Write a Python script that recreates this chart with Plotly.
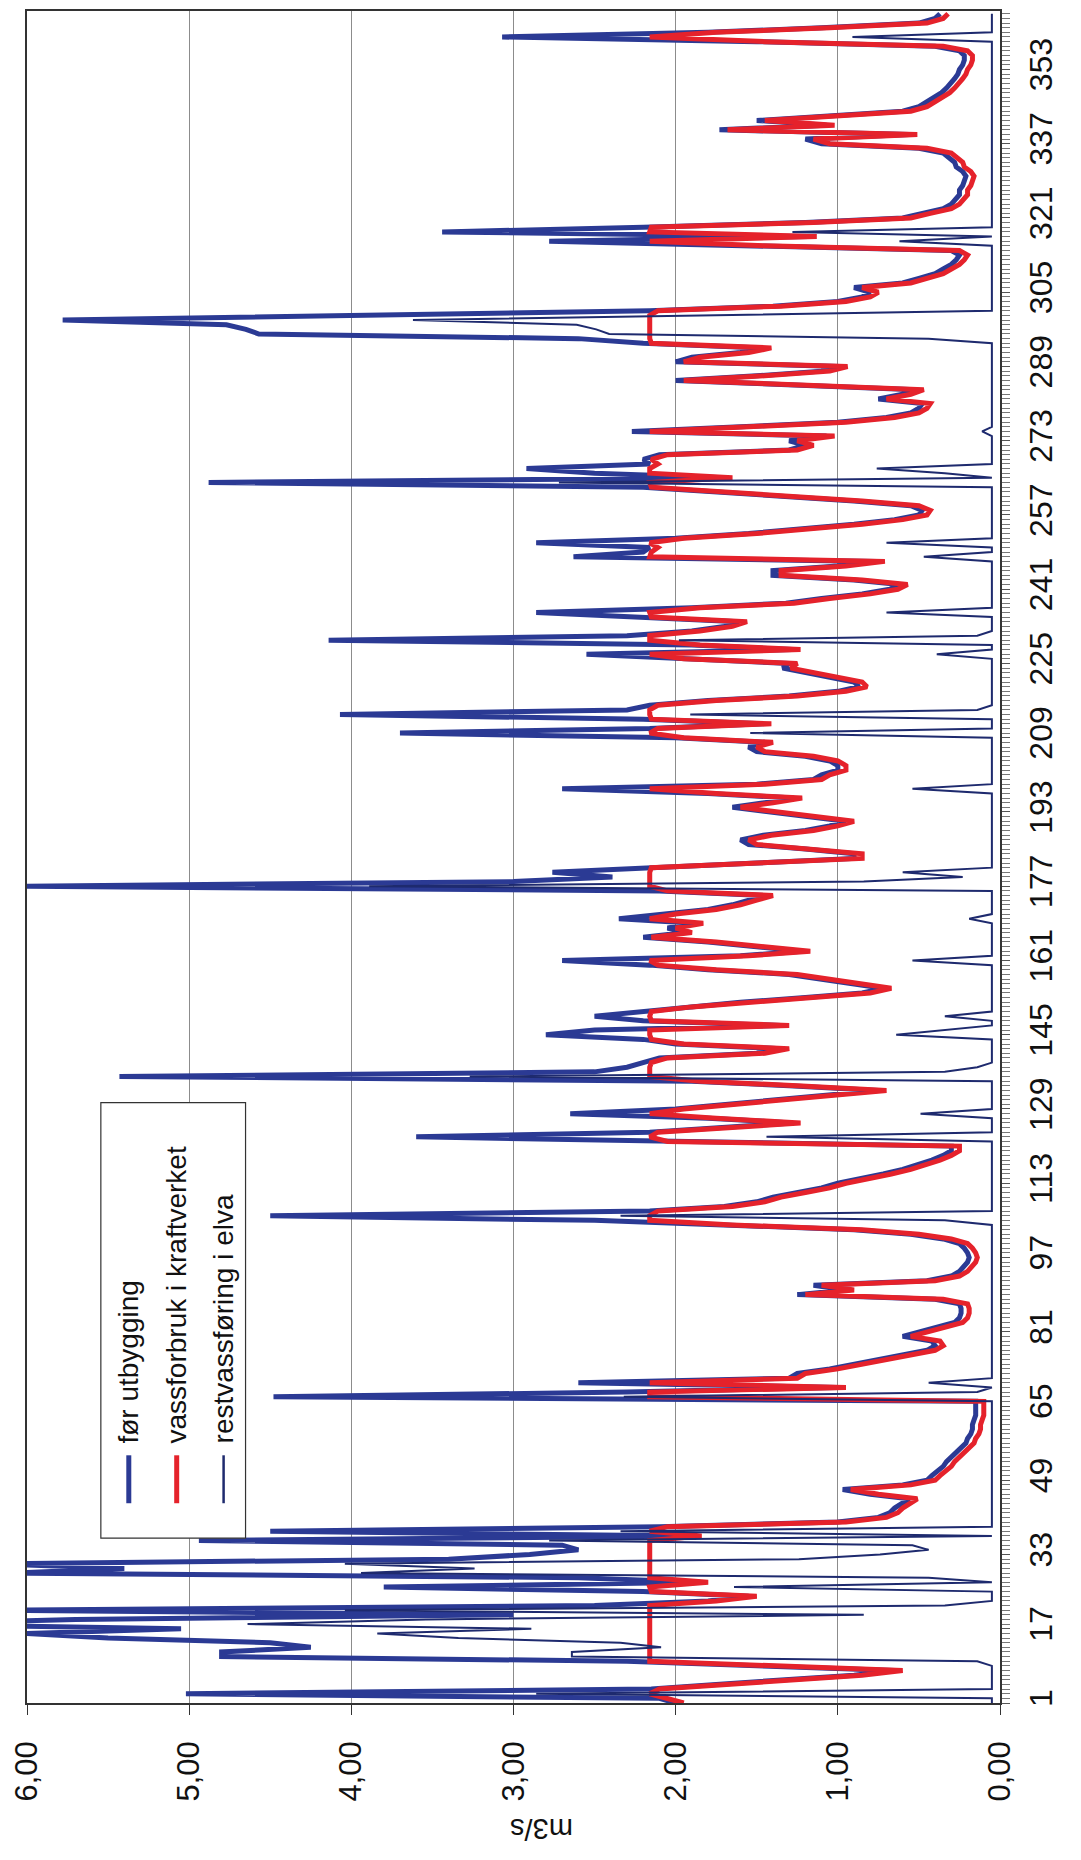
import plotly.graph_objects as go

# ---------------- data ----------------
days = list(range(1, 366))

for_utbygging = [
    2.00, 2.10, 5.02, 2.15, 1.75, 1.35, 0.90, 0.65, 1.40, 2.30,
    4.80, 4.80, 4.25, 4.50, 5.50, 6.00, 5.05, 6.80, 5.70, 3.00,
    6.20, 2.50, 1.80, 1.55, 2.20, 3.80, 1.85, 2.60, 6.10, 5.40,
    6.20, 3.40, 2.90, 2.60, 2.70, 4.94, 1.89, 4.50, 2.10, 1.00,
    0.75, 0.68, 0.65, 0.60, 0.56, 0.80, 0.97, 0.60, 0.45, 0.42,
    0.38, 0.35, 0.33, 0.30, 0.27, 0.24, 0.21, 0.20, 0.18, 0.17,
    0.17, 0.16, 0.15, 0.15, 0.15, 0.15, 4.48, 2.30, 1.00, 2.60,
    1.30, 1.25, 1.05, 0.90, 0.75, 0.60, 0.45, 0.40, 0.42, 0.60,
    0.50, 0.38, 0.28, 0.25, 0.24, 0.24, 0.25, 0.40, 1.25, 0.95,
    1.15, 0.45, 0.30, 0.25, 0.22, 0.20, 0.19, 0.20, 0.22, 0.25,
    0.35, 0.55, 0.90, 1.70, 2.50, 4.50, 2.16, 1.70, 1.50, 1.40,
    1.25, 1.10, 1.00, 0.85, 0.72, 0.60, 0.50, 0.42, 0.35, 0.30,
    0.30, 2.10, 3.60, 2.16, 1.70, 1.28, 1.80, 2.65, 2.00, 1.70,
    1.40, 1.10, 0.75, 1.30, 1.90, 5.43, 2.50, 2.30, 2.20, 2.10,
    1.50, 1.35, 2.00, 2.20, 2.80, 2.50, 1.35, 2.20, 2.50, 2.20,
    1.95, 1.60, 1.20, 0.85, 0.72, 0.90, 1.10, 1.30, 1.80, 2.16,
    2.70, 1.60, 1.22, 1.50, 1.80, 2.20, 1.95, 2.05, 1.88, 2.35,
    2.05, 1.80, 1.65, 1.55, 1.45, 2.10, 6.05, 3.00, 2.39, 2.76,
    2.20, 1.50, 0.90, 0.90, 1.20, 1.55, 1.60, 1.46, 1.20, 1.05,
    0.95, 1.20, 1.45, 1.65, 1.45, 1.27, 1.80, 2.70, 1.50, 1.15,
    1.10, 1.00, 1.00, 1.05, 1.20, 1.50, 1.55, 1.45, 2.00, 3.70,
    2.16, 1.46, 2.20, 4.07, 2.30, 2.16, 1.80, 1.30, 1.00, 0.87,
    0.90, 1.05, 1.20, 1.34, 1.30, 2.00, 2.55, 1.28, 1.90, 4.14,
    2.30, 1.90, 1.70, 1.61, 2.20, 2.86, 1.90, 1.32, 1.10, 0.85,
    0.68, 0.62, 0.90, 1.40, 1.40, 1.00, 0.76, 2.63, 2.20, 2.16,
    2.86, 2.00, 1.55, 1.20, 0.90, 0.65, 0.50, 0.48, 0.55, 0.90,
    1.30, 1.70, 2.20, 4.88, 1.70, 2.50, 2.92, 2.16, 2.20, 2.10,
    1.30, 1.20, 1.30, 1.07, 2.27, 1.60, 1.00, 0.70, 0.55, 0.50,
    0.48, 0.75, 0.60, 0.52, 1.20, 2.00, 1.50, 1.10, 0.99, 2.00,
    1.90, 1.60, 1.46, 2.20, 2.60, 4.57, 4.65, 4.77, 5.78, 4.00,
    2.16, 1.40, 1.00, 0.85, 0.80, 0.90, 0.60, 0.50, 0.40, 0.35,
    0.30, 0.27, 0.25, 0.30, 1.50, 2.78, 1.18, 3.44, 2.20, 1.20,
    0.60, 0.48, 0.35, 0.30, 0.27, 0.25, 0.25, 0.23, 0.22, 0.21,
    0.23, 0.27, 0.28, 0.32, 0.35, 0.50, 1.10, 1.20, 0.56, 1.73,
    1.07, 1.50, 1.00, 0.60, 0.50, 0.45, 0.40, 0.36, 0.33, 0.30,
    0.28, 0.26, 0.25, 0.23, 0.22, 0.22, 0.25, 0.40, 1.50, 3.07,
    1.80, 1.10, 0.50, 0.40, 0.37,
]

vassforbruk_kraftverket = [
    1.95, 2.05, 2.16, 2.10, 1.70, 1.30, 0.85, 0.60, 1.35, 2.16,
    2.16, 2.16, 2.16, 2.16, 2.16, 2.16, 2.16, 2.16, 2.16, 2.16,
    2.16, 2.16, 1.75, 1.50, 2.15, 2.16, 1.80, 2.16, 2.16, 2.16,
    2.16, 2.16, 2.16, 2.16, 2.16, 2.16, 1.84, 2.16, 2.05, 0.95,
    0.70, 0.63, 0.60, 0.55, 0.51, 0.75, 0.92, 0.55, 0.40, 0.37,
    0.33, 0.30, 0.28, 0.25, 0.22, 0.19, 0.16, 0.15, 0.13, 0.12,
    0.12, 0.11, 0.10, 0.10, 0.10, 0.10, 2.16, 2.16, 0.95, 2.16,
    1.25, 1.20, 1.00, 0.85, 0.70, 0.55, 0.40, 0.35, 0.37, 0.55,
    0.45, 0.33, 0.23, 0.20, 0.19, 0.19, 0.20, 0.35, 1.20, 0.90,
    1.10, 0.40, 0.25, 0.20, 0.17, 0.15, 0.14, 0.15, 0.17, 0.20,
    0.30, 0.50, 0.85, 1.65, 2.16, 2.16, 2.11, 1.65, 1.45, 1.35,
    1.20, 1.05, 0.95, 0.80, 0.67, 0.55, 0.45, 0.37, 0.30, 0.25,
    0.25, 2.05, 2.16, 2.11, 1.65, 1.23, 1.75, 2.16, 1.95, 1.65,
    1.35, 1.05, 0.70, 1.25, 1.85, 2.16, 2.16, 2.16, 2.15, 2.05,
    1.45, 1.30, 1.95, 2.15, 2.16, 2.16, 1.30, 2.15, 2.16, 2.15,
    1.90, 1.55, 1.15, 0.80, 0.67, 0.85, 1.05, 1.25, 1.75, 2.11,
    2.16, 1.55, 1.17, 1.45, 1.75, 2.15, 1.90, 2.00, 1.83, 2.16,
    2.00, 1.75, 1.60, 1.50, 1.40, 2.05, 2.16, 2.16, 2.16, 2.16,
    2.15, 1.45, 0.85, 0.85, 1.15, 1.50, 1.55, 1.41, 1.15, 1.00,
    0.90, 1.15, 1.40, 1.60, 1.40, 1.22, 1.75, 2.16, 1.45, 1.10,
    1.05, 0.95, 0.95, 1.00, 1.15, 1.45, 1.50, 1.40, 1.95, 2.16,
    2.11, 1.41, 2.15, 2.16, 2.16, 2.11, 1.75, 1.25, 0.95, 0.82,
    0.85, 1.00, 1.15, 1.29, 1.25, 1.95, 2.16, 1.23, 1.85, 2.16,
    2.16, 1.85, 1.65, 1.56, 2.15, 2.16, 1.85, 1.27, 1.05, 0.80,
    0.63, 0.57, 0.85, 1.35, 1.35, 0.95, 0.71, 2.16, 2.15, 2.11,
    2.16, 1.95, 1.50, 1.15, 0.85, 0.60, 0.45, 0.43, 0.50, 0.85,
    1.25, 1.65, 2.15, 2.16, 1.65, 2.16, 2.16, 2.11, 2.15, 2.05,
    1.25, 1.15, 1.25, 1.02, 2.16, 1.55, 0.95, 0.65, 0.50, 0.45,
    0.43, 0.70, 0.55, 0.47, 1.15, 1.95, 1.45, 1.05, 0.94, 1.95,
    1.85, 1.55, 1.41, 2.15, 2.16, 2.16, 2.16, 2.16, 2.16, 2.16,
    2.11, 1.35, 0.95, 0.80, 0.75, 0.85, 0.55, 0.45, 0.35, 0.30,
    0.25, 0.22, 0.20, 0.25, 1.45, 2.16, 1.13, 2.16, 2.15, 1.15,
    0.55, 0.43, 0.30, 0.25, 0.22, 0.20, 0.20, 0.18, 0.17, 0.16,
    0.18, 0.22, 0.23, 0.27, 0.30, 0.45, 1.05, 1.15, 0.51, 1.68,
    1.02, 1.45, 0.95, 0.55, 0.45, 0.40, 0.35, 0.31, 0.28, 0.25,
    0.23, 0.21, 0.20, 0.18, 0.17, 0.17, 0.20, 0.35, 1.45, 2.16,
    1.75, 1.05, 0.45, 0.35, 0.32,
]

restvassforing_elva = [
    0.05, 0.05, 2.86, 0.05, 0.05, 0.05, 0.05, 0.05, 0.05, 0.14,
    2.64, 2.64, 2.09, 2.34, 3.34, 3.84, 2.89, 4.64, 3.54, 0.84,
    4.04, 0.34, 0.05, 0.05, 0.05, 1.64, 0.05, 0.44, 3.94, 3.24,
    4.04, 1.24, 0.74, 0.44, 0.54, 2.78, 0.05, 2.34, 0.05, 0.05,
    0.05, 0.05, 0.05, 0.05, 0.05, 0.05, 0.05, 0.05, 0.05, 0.05,
    0.05, 0.05, 0.05, 0.05, 0.05, 0.05, 0.05, 0.05, 0.05, 0.05,
    0.05, 0.05, 0.05, 0.05, 0.05, 0.05, 2.32, 0.14, 0.05, 0.44,
    0.05, 0.05, 0.05, 0.05, 0.05, 0.05, 0.05, 0.05, 0.05, 0.05,
    0.05, 0.05, 0.05, 0.05, 0.05, 0.05, 0.05, 0.05, 0.05, 0.05,
    0.05, 0.05, 0.05, 0.05, 0.05, 0.05, 0.05, 0.05, 0.05, 0.05,
    0.05, 0.05, 0.05, 0.05, 0.34, 2.34, 0.05, 0.05, 0.05, 0.05,
    0.05, 0.05, 0.05, 0.05, 0.05, 0.05, 0.05, 0.05, 0.05, 0.05,
    0.05, 0.05, 1.44, 0.05, 0.05, 0.05, 0.05, 0.49, 0.05, 0.05,
    0.05, 0.05, 0.05, 0.05, 0.05, 3.27, 0.34, 0.14, 0.05, 0.05,
    0.05, 0.05, 0.05, 0.05, 0.64, 0.34, 0.05, 0.05, 0.34, 0.05,
    0.05, 0.05, 0.05, 0.05, 0.05, 0.05, 0.05, 0.05, 0.05, 0.05,
    0.54, 0.05, 0.05, 0.05, 0.05, 0.05, 0.05, 0.05, 0.05, 0.19,
    0.05, 0.05, 0.05, 0.05, 0.05, 0.05, 3.89, 0.84, 0.23, 0.60,
    0.05, 0.05, 0.05, 0.05, 0.05, 0.05, 0.05, 0.05, 0.05, 0.05,
    0.05, 0.05, 0.05, 0.05, 0.05, 0.05, 0.05, 0.54, 0.05, 0.05,
    0.05, 0.05, 0.05, 0.05, 0.05, 0.05, 0.05, 0.05, 0.05, 1.54,
    0.05, 0.05, 0.05, 1.91, 0.14, 0.05, 0.05, 0.05, 0.05, 0.05,
    0.05, 0.05, 0.05, 0.05, 0.05, 0.05, 0.39, 0.05, 0.05, 1.98,
    0.14, 0.05, 0.05, 0.05, 0.05, 0.70, 0.05, 0.05, 0.05, 0.05,
    0.05, 0.05, 0.05, 0.05, 0.05, 0.05, 0.05, 0.47, 0.05, 0.05,
    0.70, 0.05, 0.05, 0.05, 0.05, 0.05, 0.05, 0.05, 0.05, 0.05,
    0.05, 0.05, 0.05, 2.72, 0.05, 0.34, 0.76, 0.05, 0.05, 0.05,
    0.05, 0.05, 0.05, 0.05, 0.11, 0.05, 0.05, 0.05, 0.05, 0.05,
    0.05, 0.05, 0.05, 0.05, 0.05, 0.05, 0.05, 0.05, 0.05, 0.05,
    0.05, 0.05, 0.05, 0.05, 0.44, 2.41, 2.49, 2.61, 3.62, 1.84,
    0.05, 0.05, 0.05, 0.05, 0.05, 0.05, 0.05, 0.05, 0.05, 0.05,
    0.05, 0.05, 0.05, 0.05, 0.05, 0.62, 0.05, 1.28, 0.05, 0.05,
    0.05, 0.05, 0.05, 0.05, 0.05, 0.05, 0.05, 0.05, 0.05, 0.05,
    0.05, 0.05, 0.05, 0.05, 0.05, 0.05, 0.05, 0.05, 0.05, 0.05,
    0.05, 0.05, 0.05, 0.05, 0.05, 0.05, 0.05, 0.05, 0.05, 0.05,
    0.05, 0.05, 0.05, 0.05, 0.05, 0.05, 0.05, 0.05, 0.05, 0.91,
    0.05, 0.05, 0.05, 0.05, 0.05,
]

series_names = ["før utbygging", "vassforbruk i kraftverket", "restvassføring i elva"]
value_ticks = [0, 1, 2, 3, 4, 5, 6]
day_tick_start = 1
day_tick_step = 16
axis_title = "m3/s"

# ---------------- style ----------------
BLUE = "#2B3A94"
RED = "#E5222B"
THIN = "#1E2A6E"
FONT = "Liberation Sans, Arial, sans-serif"

# plot area in page pixels (for the hand-built legend)
PL, PR, PT, PB = 25, 1000, 9, 1703


def px(x):
    return (x - PL) / (PR - PL)


def py(y):
    return (PB - y) / (PB - PT)


fig = go.Figure()
fig.add_trace(go.Scatter(x=for_utbygging, y=days, mode="lines", name=series_names[0],
                         line=dict(color=BLUE, width=5), showlegend=False))
fig.add_trace(go.Scatter(x=vassforbruk_kraftverket, y=days, mode="lines", name=series_names[1],
                         line=dict(color=RED, width=5), showlegend=False))
fig.add_trace(go.Scatter(x=restvassforing_elva, y=days, mode="lines", name=series_names[2],
                         line=dict(color=THIN, width=2), showlegend=False))

fig.update_layout(
    width=1081, height=1860,
    margin=dict(l=PL, r=1081 - PR, t=PT, b=1860 - PB),
    paper_bgcolor="white", plot_bgcolor="white",
    separators=", ",
    font=dict(family=FONT, color="#111"),
    xaxis=dict(
        range=[6, 0], tickmode="array", tickvals=value_ticks, tickformat=".2f",
        tickangle=-90, ticks="outside", ticklen=10, tickcolor="#333",
        tickfont=dict(size=31, family=FONT, color="#111"),
        showgrid=True, gridcolor="#8c8c8c", gridwidth=1,
        showline=True, linecolor="#333", linewidth=1.5, mirror=True,
        zeroline=False, ticklabelstandoff=14,
    ),
    yaxis=dict(
        range=[1, 365.6], side="right", tickmode="linear", tick0=day_tick_start, dtick=day_tick_step,
        tickangle=-90, ticks="outside", ticklen=8, tickcolor="#555",
        tickfont=dict(size=32, family=FONT, color="#111"),
        minor=dict(tickmode="linear", tick0=1, dtick=1, ticks="outside", ticklen=8, tickcolor="#777"),
        showgrid=False, showline=True, linecolor="#333", linewidth=1.5, mirror=True,
        zeroline=False, ticklabelstandoff=4,
    ),
)

# axis title (upside down, as in the rotated original)
fig.add_annotation(x=px(540), y=py(1847), xref="paper", yref="paper", text=axis_title,
                   textangle=180, showarrow=False, font=dict(size=29, family=FONT, color="#111"))

# legend box
fig.add_shape(type="rect", xref="paper", yref="paper", x0=px(99), x1=px(244), y0=py(1538), y1=py(1102),
              line=dict(color="#333", width=1.2), fillcolor="white", layer="above")
leg_x = [127, 175, 222]
leg_col = [BLUE, RED, THIN]
leg_w = [5, 5, 2.5]
for i in range(3):
    fig.add_shape(type="line", xref="paper", yref="paper", x0=px(leg_x[i]), x1=px(leg_x[i]),
                  y0=py(1503), y1=py(1455), line=dict(color=leg_col[i], width=leg_w[i]), layer="above")
    fig.add_annotation(x=px(leg_x[i]), y=py(1445), xref="paper", yref="paper", text=series_names[i],
                       textangle=-90, xanchor="center", yanchor="bottom", showarrow=False,
                       font=dict(size=28, family=FONT, color="#111"))

fig.write_html("out.html")
